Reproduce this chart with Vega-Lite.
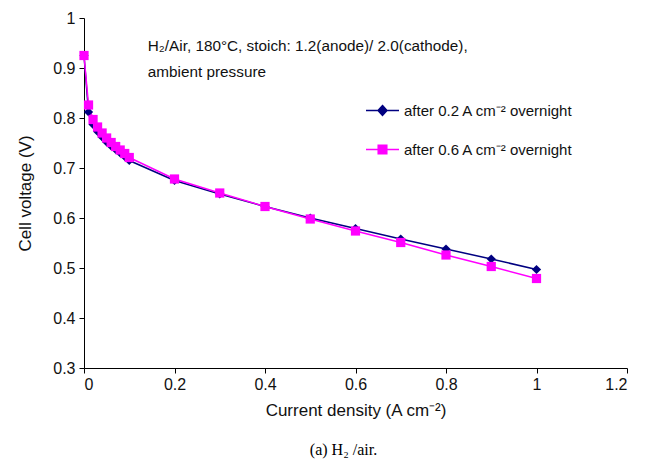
{
  "$schema": "https://vega.github.io/schema/vega-lite/v6.json",
  "width": 543,
  "height": 350,
  "autosize": {"type": "none"},
  "padding": {"left": 84, "top": 18, "right": 27, "bottom": 98},
  "background": "white",
  "title": {"text": "(a) H₂ /air.", "orient": "bottom", "anchor": "middle", "font": "Liberation Serif", "fontSize": 16, "fontWeight": "normal", "color": "#000", "offset": 24, "dx": -12},
  "config": {
    "view": {"stroke": null},
    "axis": {"grid": false, "domainColor": "#000", "tickColor": "#000", "tickSize": 5, "labelFont": "Liberation Sans", "labelFontSize": 16, "labelColor": "#111", "titleFont": "Liberation Sans", "titleFontSize": 17, "titleFontWeight": "normal", "titleColor": "#111", "format": "~g"}
  },
  "datasets": {
    "curves": [
      {"j": 0, "v": 0.925, "s": "after 0.2 A cm⁻² overnight"},
      {"j": 0.01, "v": 0.812, "s": "after 0.2 A cm⁻² overnight"},
      {"j": 0.02, "v": 0.787, "s": "after 0.2 A cm⁻² overnight"},
      {"j": 0.03, "v": 0.773, "s": "after 0.2 A cm⁻² overnight"},
      {"j": 0.04, "v": 0.762, "s": "after 0.2 A cm⁻² overnight"},
      {"j": 0.05, "v": 0.752, "s": "after 0.2 A cm⁻² overnight"},
      {"j": 0.06, "v": 0.744, "s": "after 0.2 A cm⁻² overnight"},
      {"j": 0.07, "v": 0.737, "s": "after 0.2 A cm⁻² overnight"},
      {"j": 0.08, "v": 0.73, "s": "after 0.2 A cm⁻² overnight"},
      {"j": 0.09, "v": 0.723, "s": "after 0.2 A cm⁻² overnight"},
      {"j": 0.1, "v": 0.715, "s": "after 0.2 A cm⁻² overnight"},
      {"j": 0.2, "v": 0.675, "s": "after 0.2 A cm⁻² overnight"},
      {"j": 0.3, "v": 0.648, "s": "after 0.2 A cm⁻² overnight"},
      {"j": 0.4, "v": 0.623, "s": "after 0.2 A cm⁻² overnight"},
      {"j": 0.5, "v": 0.6, "s": "after 0.2 A cm⁻² overnight"},
      {"j": 0.6, "v": 0.579, "s": "after 0.2 A cm⁻² overnight"},
      {"j": 0.7, "v": 0.558, "s": "after 0.2 A cm⁻² overnight"},
      {"j": 0.8, "v": 0.538, "s": "after 0.2 A cm⁻² overnight"},
      {"j": 0.9, "v": 0.518, "s": "after 0.2 A cm⁻² overnight"},
      {"j": 1.0, "v": 0.497, "s": "after 0.2 A cm⁻² overnight"},
      {"j": 0, "v": 0.925, "s": "after 0.6 A cm⁻² overnight"},
      {"j": 0.01, "v": 0.826, "s": "after 0.6 A cm⁻² overnight"},
      {"j": 0.02, "v": 0.797, "s": "after 0.6 A cm⁻² overnight"},
      {"j": 0.03, "v": 0.782, "s": "after 0.6 A cm⁻² overnight"},
      {"j": 0.04, "v": 0.77, "s": "after 0.6 A cm⁻² overnight"},
      {"j": 0.05, "v": 0.76, "s": "after 0.6 A cm⁻² overnight"},
      {"j": 0.06, "v": 0.751, "s": "after 0.6 A cm⁻² overnight"},
      {"j": 0.07, "v": 0.743, "s": "after 0.6 A cm⁻² overnight"},
      {"j": 0.08, "v": 0.736, "s": "after 0.6 A cm⁻² overnight"},
      {"j": 0.09, "v": 0.729, "s": "after 0.6 A cm⁻² overnight"},
      {"j": 0.1, "v": 0.721, "s": "after 0.6 A cm⁻² overnight"},
      {"j": 0.2, "v": 0.678, "s": "after 0.6 A cm⁻² overnight"},
      {"j": 0.3, "v": 0.65, "s": "after 0.6 A cm⁻² overnight"},
      {"j": 0.4, "v": 0.623, "s": "after 0.6 A cm⁻² overnight"},
      {"j": 0.5, "v": 0.598, "s": "after 0.6 A cm⁻² overnight"},
      {"j": 0.6, "v": 0.574, "s": "after 0.6 A cm⁻² overnight"},
      {"j": 0.7, "v": 0.551, "s": "after 0.6 A cm⁻² overnight"},
      {"j": 0.8, "v": 0.526, "s": "after 0.6 A cm⁻² overnight"},
      {"j": 0.9, "v": 0.503, "s": "after 0.6 A cm⁻² overnight"},
      {"j": 1.0, "v": 0.479, "s": "after 0.6 A cm⁻² overnight"}
    ],
    "notes": [
      {"j": 0.141, "v": 0.944, "t": "H₂/Air, 180°C, stoich: 1.2(anode)/ 2.0(cathode),"},
      {"j": 0.141, "v": 0.892, "t": "ambient pressure"}
    ]
  },
  "layer": [
    {
      "data": {"name": "curves"},
      "mark": {"type": "line", "strokeWidth": 1.5},
      "encoding": {
        "x": {"field": "j", "type": "quantitative", "scale": {"domain": [0, 1.2], "nice": false}, "axis": {"values": [0, 0.2, 0.4, 0.6, 0.8, 1, 1.2], "title": "Current density (A cm⁻²)", "labelPadding": 3, "titlePadding": 10}},
        "y": {"field": "v", "type": "quantitative", "scale": {"domain": [0.3, 1], "nice": false, "zero": false}, "axis": {"values": [0.3, 0.4, 0.5, 0.6, 0.7, 0.8, 0.9, 1], "title": "Cell voltage (V)", "labelPadding": 4, "titlePadding": 18}},
        "color": {"field": "s", "type": "nominal", "scale": {"domain": ["after 0.2 A cm⁻² overnight", "after 0.6 A cm⁻² overnight"], "range": ["#000080", "#FF00FF"]},
          "legend": {"title": null, "orient": "none", "legendX": 281, "legendY": 75, "padding": 0, "symbolSize": 1089, "symbolStrokeWidth": 1.5, "labelOffset": 4, "rowPadding": 13, "labelFont": "Liberation Sans", "labelFontSize": 15, "labelColor": "#111", "labelLimit": 400,
            "encode": {"symbols": {"update": {
              "shape": {"signal": "datum.value === 'after 0.2 A cm⁻² overnight' ? 'M-1,0L1,0M0,-0.3L0.27,0L0,0.3L-0.27,0Z' : 'M-1,0L1,0M-0.26,-0.26L0.26,-0.26L0.26,0.26L-0.26,0.26Z'"},
              "fill": {"signal": "datum.value === 'after 0.2 A cm⁻² overnight' ? '#000080' : '#FF00FF'"},
              "stroke": {"signal": "datum.value === 'after 0.2 A cm⁻² overnight' ? '#000080' : '#FF00FF'"},
              "strokeWidth": {"value": 1.5},
              "opacity": {"value": 1}
            }}}}},
        "detail": {"field": "s"}
      }
    },
    {
      "data": {"name": "curves"},
      "transform": [{"filter": {"field": "s", "equal": "after 0.2 A cm⁻² overnight"}}],
      "mark": {"type": "point", "filled": true, "opacity": 1, "shape": "diamond", "size": 85, "color": "#000080"},
      "encoding": {
        "x": {"field": "j", "type": "quantitative"},
        "y": {"field": "v", "type": "quantitative"}
      }
    },
    {
      "data": {"name": "curves"},
      "transform": [{"filter": {"field": "s", "equal": "after 0.6 A cm⁻² overnight"}}],
      "mark": {"type": "point", "filled": true, "opacity": 1, "shape": "square", "size": 85, "color": "#FF00FF"},
      "encoding": {
        "x": {"field": "j", "type": "quantitative"},
        "y": {"field": "v", "type": "quantitative"}
      }
    },
    {
      "data": {"name": "notes"},
      "mark": {"type": "text", "align": "left", "baseline": "middle", "font": "Liberation Sans", "fontSize": 15.3, "color": "#111"},
      "encoding": {
        "x": {"field": "j", "type": "quantitative"},
        "y": {"field": "v", "type": "quantitative"},
        "text": {"field": "t"}
      }
    }
  ]
}
